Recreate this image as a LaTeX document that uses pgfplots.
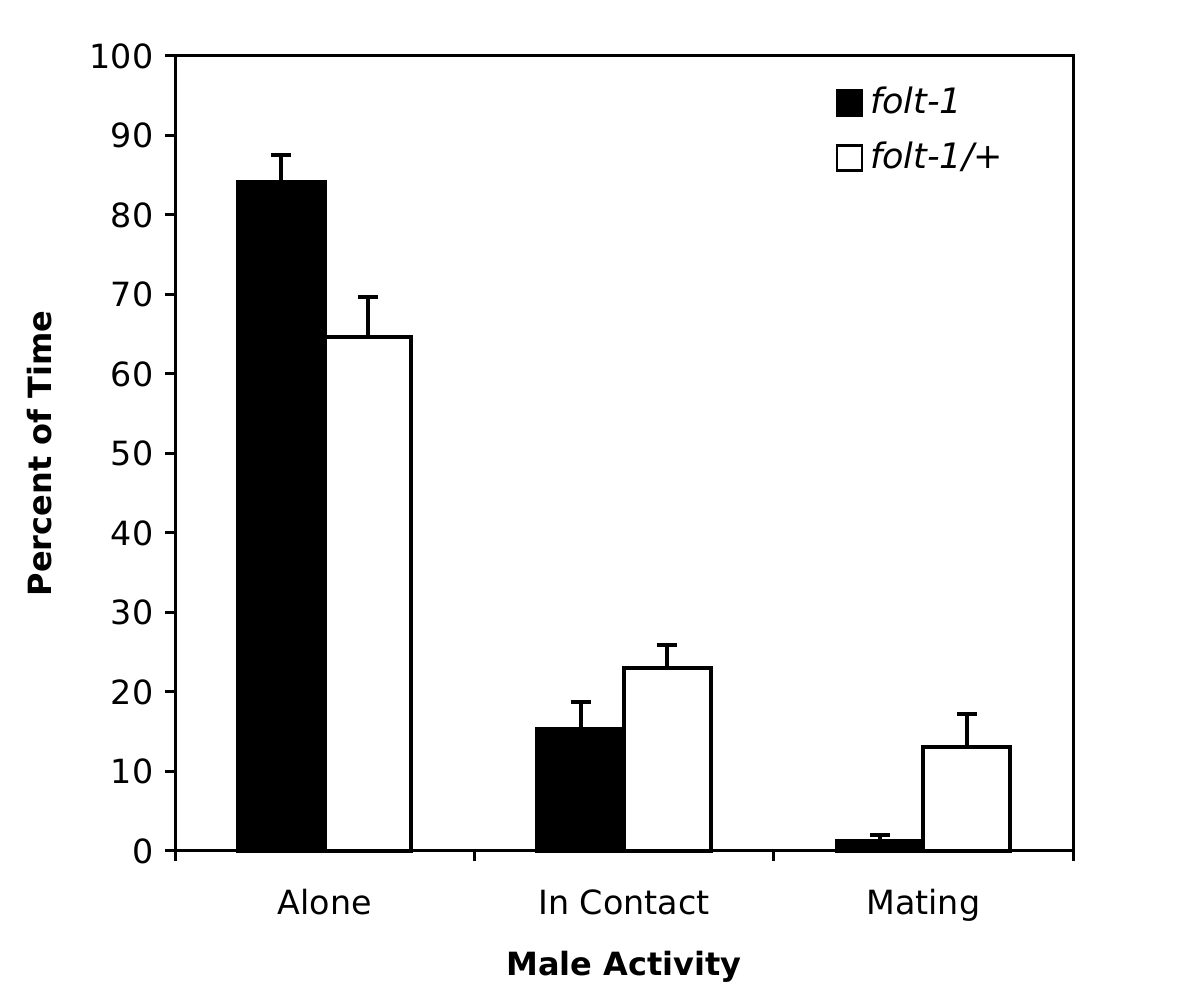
\documentclass[border=0pt]{standalone}
\usepackage{pgfplots}
\pgfplotsset{compat=1.18}
\usepackage{fontspec}
\setmainfont{DejaVu Sans}
\begin{document}
\begin{tikzpicture}
\begin{axis}[
  width=269.4pt, height=238.5pt, scale only axis,
  xmin=-0.5, xmax=2.5, ymin=0, ymax=100,
  ytick={0,10,...,100},
  xtick={-0.5,0.5,1.5,2.5}, xticklabels={Alone,In Contact,Mating},
  x tick label as interval,
  tick align=outside, major tick length=3pt,
  xtick pos=bottom, ytick pos=left,
  tick style={line width=0.9pt, black},
  axis line style={line width=0.9pt},
  /pgf/number format/assume math mode=true,
  ticklabel style={font=\fontsize{10}{12}\selectfont},
  xticklabel style={yshift=-5pt},
  xlabel={\textbf{Male Activity}}, ylabel={\textbf{Percent of Time}},
  label style={font=\fontsize{9.6}{11}\selectfont},
  xlabel style={yshift=-2pt},
  ylabel style={yshift=4.5pt},
  ybar, bar width=0.29,
  clip=false,
  legend style={at={(0.735,0.97)}, anchor=north west, draw=none, fill=none,
    font=\fontsize{10.5}{12}\selectfont\itshape, row sep=3pt,
    legend cell align=left, inner sep=0pt},
  legend image code/.code={\draw[#1, line width=0.8pt] (0pt,-3.8pt) rectangle (7.5pt,3.8pt);},
]
\addplot[fill=black, draw=black, line width=1.2pt, bar shift=-0.145,
  error bars/.cd, y dir=plus, y explicit, error bar style={line width=1.2pt, black},
  error mark options={rotate=90, mark size=3pt, line width=1.2pt}]
  coordinates {(0,84.1) +- (0,3.4) (1,15.4) +- (0,3.4) (2,1.3) +- (0,0.7)};
\addplot[fill=white, draw=black, line width=1.2pt, bar shift=0.145,
  error bars/.cd, y dir=plus, y explicit, error bar style={line width=1.2pt, black},
  error mark options={rotate=90, mark size=3pt, line width=1.2pt}]
  coordinates {(0,64.7) +- (0,5.0) (1,23.0) +- (0,2.9) (2,13.1) +- (0,4.1)};
\legend{folt-1,folt-1/+}
\path (rel axis cs:-0.1949,-0.1874) rectangle (rel axis cs:1.1414,1.0704);
\end{axis}
\end{tikzpicture}
\end{document}
